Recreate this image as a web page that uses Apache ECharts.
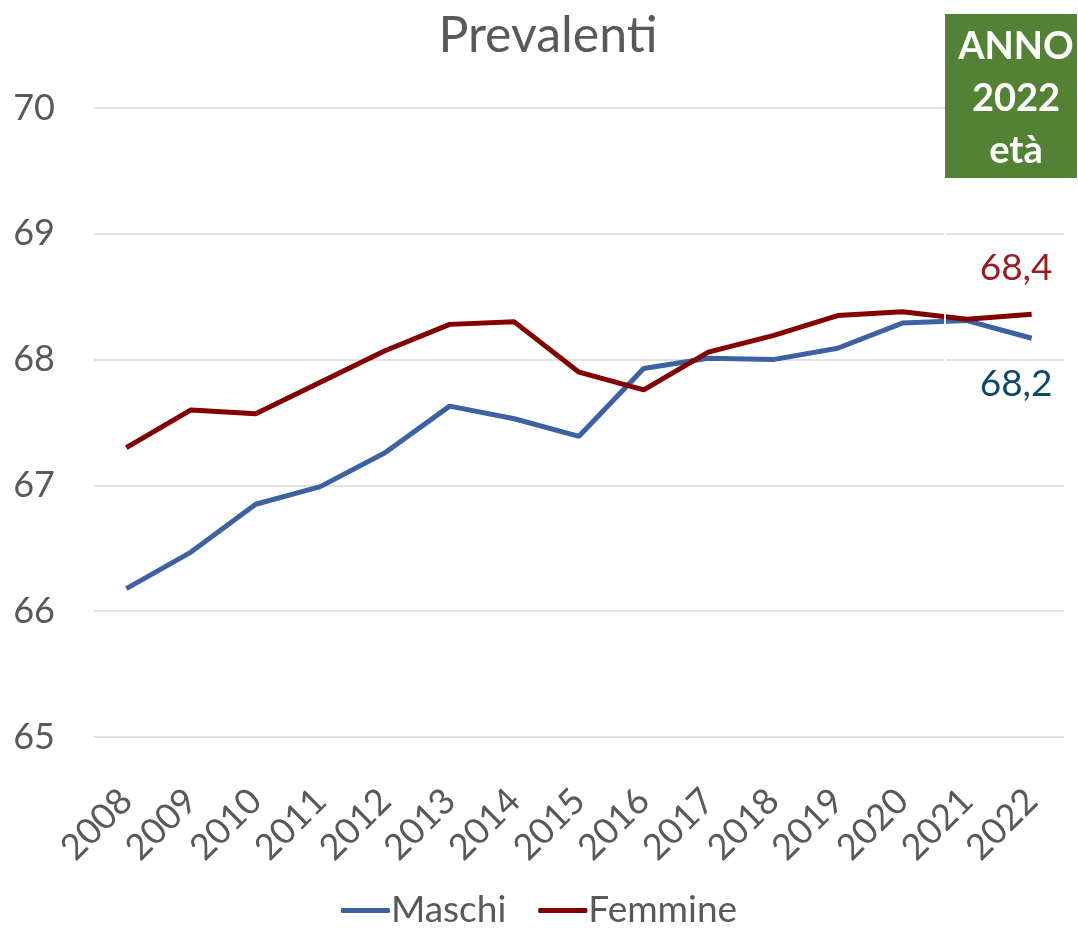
<!DOCTYPE html>
<html>
<head>
<meta charset="utf-8">
<script src="https://cdn.jsdelivr.net/npm/echarts@6/dist/echarts.min.js"></script>
<style>
  html, body { margin: 0; padding: 0; background: #fff; }
  #chart { width: 1078px; height: 929px; }
</style>
</head>
<body>
<div id="chart"></div>
<script>
// dati
const anni = ['2008', '2009', '2010', '2011', '2012', '2013', '2014', '2015',
  '2016', '2017', '2018', '2019', '2020', '2021', '2022']
const maschi = [66.18, 66.47, 66.85, 66.99, 67.26, 67.63, 67.53, 67.39,
  67.93, 68.01, 68.0, 68.09, 68.29, 68.31, 68.17]
const femmine = [67.30, 67.60, 67.57, 67.82, 68.07, 68.28, 68.30, 67.90,
  67.76, 68.06, 68.19, 68.35, 68.38, 68.32, 68.36]
const yTicks = [65, 66, 67, 68, 69, 70]

const FONT = 'Lato, "Open Sans", sans-serif'
const GREY = '#595959'

const chart = echarts.init(document.getElementById('chart'))

// etichetta finale con la virgola decimale
function endLabel(color, dy) {
  return {
    show: true,
    distance: 5,
    offset: [-57, dy],
    color: color,
    fontSize: 37,
    fontFamily: FONT,
    formatter: p => Number(p.value).toFixed(1).replace('.', ',')
  }
}

chart.setOption({
  animation: false,
  title: {
    text: 'Prevalenti',
    left: 543,
    textAlign: 'center',
    top: 6,
    textStyle: { color: GREY, fontSize: 50, fontWeight: 'normal', fontFamily: FONT }
  },
  legend: {
    top: 887,
    left: 'center',
    icon: 'roundRect',
    itemWidth: 49,
    itemHeight: 5,
    itemGap: 32,
    textStyle: { color: GREY, fontSize: 37, fontFamily: FONT, padding: [0, 0, 0, -4] },
    data: ['Maschi', 'Femmine']
  },
  grid: { left: 94, right: 14, top: 108, bottom: 192 },
  xAxis: {
    type: 'category',
    data: anni,
    boundaryGap: true,
    axisLine: { show: false },
    axisTick: { show: false },
    axisLabel: {
      rotate: 45,
      margin: 58,
      interval: 0,
      color: GREY,
      fontSize: 36,
      fontFamily: FONT
    }
  },
  yAxis: {
    type: 'value',
    min: yTicks[0],
    max: yTicks[yTicks.length - 1],
    interval: 1,
    axisLine: { show: false },
    axisTick: { show: false },
    axisLabel: { color: GREY, fontSize: 36, fontFamily: FONT, margin: 39 },
    splitLine: { lineStyle: { color: '#d9d9d9', width: 1.5 } }
  },
  series: [
    {
      name: 'Maschi',
      type: 'line',
      data: maschi,
      symbol: 'none',
      lineStyle: { color: '#3c62a4', width: 5 },
      itemStyle: { color: '#3c62a4' },
      endLabel: endLabel('#0b4a66', 46),
      z: 3
    },
    {
      name: 'Femmine',
      type: 'line',
      data: femmine,
      symbol: 'none',
      lineStyle: { color: '#840000', width: 5 },
      itemStyle: { color: '#840000' },
      endLabel: endLabel('#9b1b1e', -46),
      z: 3
    }
  ],
  graphic: [
    {
      type: 'rect',
      shape: { x: 944, y: 178, width: 2, height: 190 },
      style: { fill: '#ffffff' },
      z: 100
    },
    {
      type: 'rect',
      shape: { x: 945, y: 14, width: 132, height: 164 },
      style: { fill: '#548235' },
      z: 100
    },
    {
      type: 'text',
      x: 1016,
      y: 99,
      style: {
        text: 'ANNO\n2022\netà',
        fill: '#ffffff',
        fontSize: 38,
        fontWeight: 'bold',
        fontFamily: FONT,
        lineHeight: 52,
        align: 'center',
        verticalAlign: 'middle'
      },
      z: 101
    }
  ]
})
</script>
</body>
</html>
